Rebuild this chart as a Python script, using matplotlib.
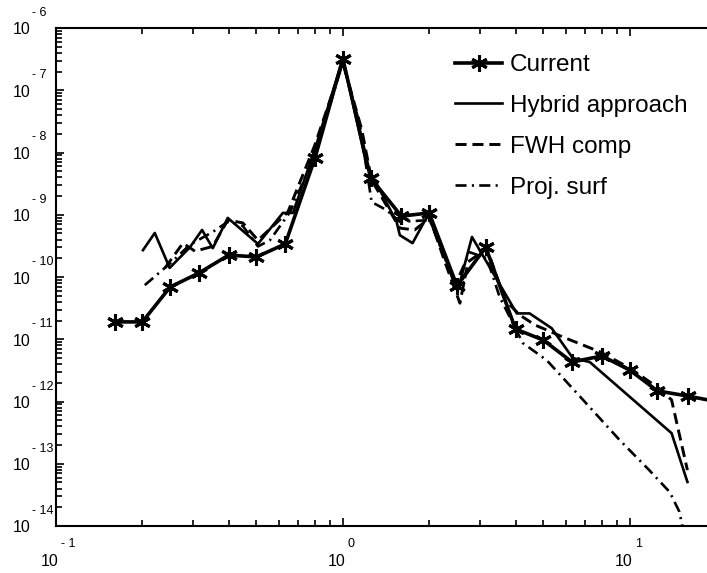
import matplotlib
matplotlib.use('Agg')
import matplotlib.pyplot as plt
from matplotlib.ticker import NullFormatter, LogLocator

plt.rcParams['font.family'] = ['Liberation Sans', 'DejaVu Sans']

# ---------------- data ----------------
cur_f = [0.16, 0.2, 0.25, 0.315, 0.4, 0.5, 0.63, 0.8, 1.0, 1.25, 1.6, 2.0, 2.5,
         3.15, 4.0, 5.0, 6.3, 8.0, 10.0, 12.5, 16.0, 20.0]
cur_v = [1.9e-11, 1.9e-11, 6.9e-11, 1.16e-10, 2.25e-10, 2.1e-10, 3.4e-10, 8.2e-9,
         3.2e-7, 3.9e-9, 9.5e-10, 1.07e-9, 7.2e-11, 3.0e-10, 1.46e-11, 9.7e-12,
         4.3e-12, 5.4e-12, 3.2e-12, 1.48e-12, 1.22e-12, 1.0e-12]

hyb_f = [0.201, 0.221, 0.249, 0.293, 0.323, 0.352, 0.397, 0.506, 0.618, 0.67,
         0.798, 1.0, 1.21, 1.54, 1.58, 1.75, 1.98, 2.52, 2.82, 4.04, 4.48, 5.35,
         6.33, 7.26, 14.0, 15.9]
hyb_v = [2.7e-10, 5.1e-10, 1.4e-10, 3.0e-10, 5.7e-10, 2.9e-10, 8.9e-10, 3.4e-10,
         1.07e-9, 1.07e-9, 1.1e-8, 3.2e-7, 6.3e-9, 7.7e-10, 4.7e-10, 3.5e-10,
         9.9e-10, 6.2e-11, 4.4e-10, 2.6e-11, 2.6e-11, 1.5e-11, 5.0e-12, 4.3e-12,
         3.1e-13, 5.1e-14]

fwh_f = [0.24, 0.277, 0.305, 0.352, 0.397, 0.448, 0.506, 0.643, 0.798, 1.0,
         1.165, 1.26, 1.58, 1.78, 2.01, 2.27, 2.56, 2.73, 3.18, 3.67, 4.14, 4.67,
         5.84, 7.93, 10.0, 12.6, 14.0, 15.9]
fwh_v = [1.4e-10, 3.5e-10, 2.6e-10, 3.1e-10, 8.2e-10, 7.4e-10, 3.9e-10, 1.1e-9,
         1.3e-8, 2.8e-7, 2.3e-8, 3.6e-9, 6.1e-10, 5.7e-10, 8.9e-10, 1.74e-10,
         3.8e-11, 1.74e-10, 2.9e-10, 4.3e-11, 2.45e-11, 1.7e-11, 1.09e-11, 6.2e-12,
         3.45e-12, 1.65e-12, 1.06e-12, 7.9e-14]

prj_f = [0.204, 0.253, 0.293, 0.352, 0.397, 0.448, 0.506, 0.557, 0.654, 0.798,
         1.0, 1.146, 1.26, 1.42, 1.58, 2.01, 2.27, 2.46, 2.77, 3.18, 3.52, 4.24,
         5.14, 6.54, 9.23, 11.7, 13.8, 14.9, 15.5]
prj_v = [7.4e-11, 1.74e-10, 3.3e-10, 5.3e-10, 7.7e-10, 6.6e-10, 3.1e-10, 3.9e-10,
         1.1e-9, 9.1e-9, 2.8e-7, 2.8e-8, 1.6e-9, 1.19e-9, 7.7e-10, 8.2e-10,
         2.0e-10, 7.4e-11, 2.5e-10, 2.0e-10, 4.8e-11, 8.7e-12, 4.6e-12, 1.37e-12,
         2.4e-13, 7.9e-14, 3.5e-14, 1.7e-14, 7.2e-15]

labels = ['Current', 'Hybrid approach', 'FWH comp', 'Proj. surf']
x_exps = [-1, 0, 1]
y_exps = [-6, -7, -8, -9, -10, -11, -12, -13, -14]

# ---------------- figure ----------------
W, H = 707, 573
fig = plt.figure(figsize=(W / 100, H / 100), dpi=100)
ax = fig.add_axes([56 / W, 1 - 526 / H, (716 - 56) / W, (526 - 28) / H])
ax.set_xscale('log')
ax.set_yscale('log')
ax.set_xlim(0.1, 20)
ax.set_ylim(1e-14, 1e-6)

ax.plot(hyb_f, hyb_v, color='black', lw=1.9, label=labels[1], zorder=3)
ax.plot(fwh_f, fwh_v, color='black', lw=2.1, dashes=(3.8, 2.0), label=labels[2], zorder=3)
ax.plot(prj_f, prj_v, color='black', lw=1.9, dashes=(4.2, 2.0, 0.8, 2.0),
        label=labels[3], zorder=3)
ax.plot(cur_f, cur_v, color='black', lw=2.6, marker=(6, 2, 0), ms=12, mew=2.2,
        label=labels[0], zorder=4)

for s in ax.spines.values():
    s.set_linewidth(1.5)

ax.yaxis.set_major_locator(LogLocator(base=10, numticks=20))
ax.yaxis.set_minor_locator(LogLocator(base=10, subs=range(2, 10), numticks=20))
ax.xaxis.set_major_formatter(NullFormatter())
ax.xaxis.set_minor_formatter(NullFormatter())
ax.yaxis.set_major_formatter(NullFormatter())
ax.yaxis.set_minor_formatter(NullFormatter())
ax.tick_params(which='both', direction='in', top=True, right=True, width=1.2)
ax.tick_params(which='major', length=6)
ax.tick_params(which='minor', length=4)

# custom 10^n tick labels
for e in y_exps:
    ax.annotate('10', xy=(0, 10.0 ** e), xycoords=ax.get_yaxis_transform(),
                xytext=(-25, -2), textcoords='offset pixels', ha='right', va='center',
                fontsize=11.5, annotation_clip=False)
    ax.annotate('- %d' % (-e), xy=(0, 10.0 ** e), xycoords=ax.get_yaxis_transform(),
                xytext=(-24, 15), textcoords='offset pixels', ha='left', va='center',
                fontsize=9, annotation_clip=False)
for e in x_exps:
    ax.annotate('10', xy=(10.0 ** e, 0), xycoords=ax.get_xaxis_transform(),
                xytext=(3, -36), textcoords='offset pixels', ha='right', va='center',
                fontsize=11.5, annotation_clip=False)
    lab = ('- %d' % (-e)) if e < 0 else '%d' % e
    ax.annotate(lab, xy=(10.0 ** e, 0), xycoords=ax.get_xaxis_transform(),
                xytext=(5, -18), textcoords='offset pixels', ha='left', va='center',
                fontsize=9, annotation_clip=False)

h, l = ax.get_legend_handles_labels()
order = [l.index(t) for t in labels]
leg = ax.legend([h[i] for i in order], [l[i] for i in order], loc='upper left',
                bbox_to_anchor=(455 / W, 1 - 54 / H), bbox_transform=fig.transFigure,
                frameon=False, fontsize=17.5, handlelength=1.95, handletextpad=0.3,
                labelspacing=0.78, borderpad=0, borderaxespad=0, numpoints=1)

fig.savefig('out.png', dpi=100)
